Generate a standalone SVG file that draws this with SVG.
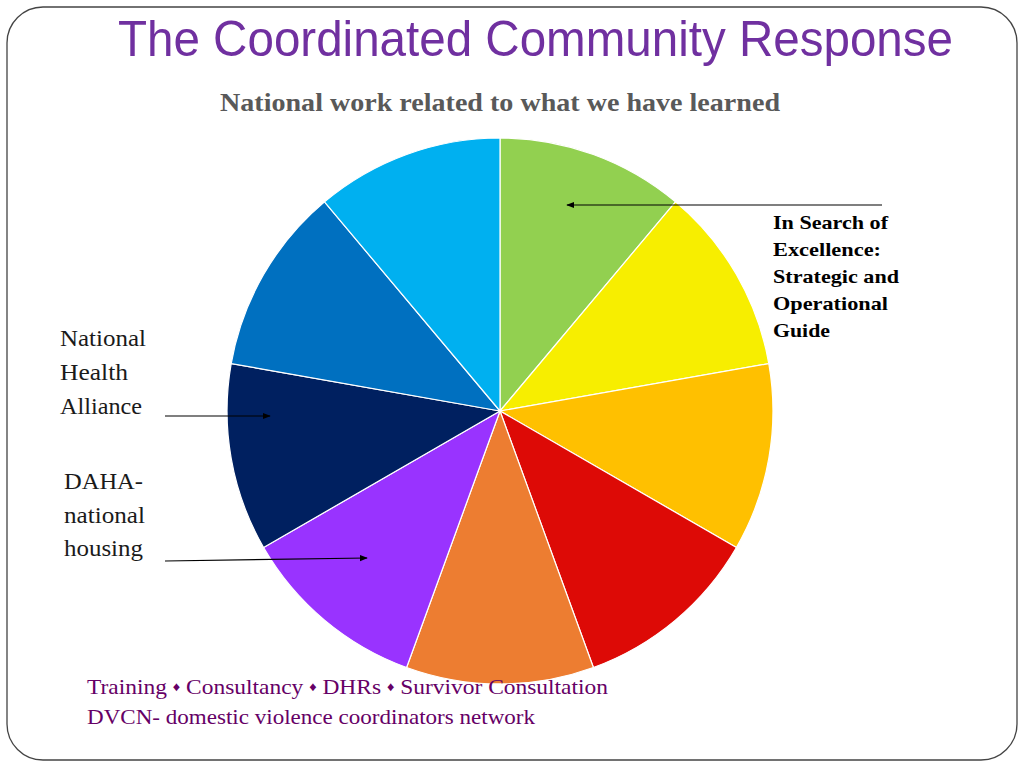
<svg xmlns="http://www.w3.org/2000/svg" width="1024" height="768" viewBox="0 0 1024 768">
<style>
.slice{stroke:#ffffff;stroke-width:1.2}
.serif{font-family:"Liberation Serif","DejaVu Serif",serif}
.lbl{font-family:"Liberation Serif","DejaVu Serif",serif;font-size:23px;fill:#1a1a1a}
.rl{font-family:"Liberation Serif","DejaVu Serif",serif;font-size:19px;font-weight:bold;fill:#000}
.ft{font-family:"Liberation Serif","DejaVu Serif",serif;font-size:21px;fill:#660066}
.conn{stroke:#000;stroke-width:1.2;fill:none}
</style>
<defs>
<marker id="ah" viewBox="0 0 10 10" refX="9" refY="5" markerWidth="8" markerHeight="8" orient="auto" markerUnits="userSpaceOnUse"><path d="M0,1 L10,5 L0,9 z" fill="#000"/></marker>
</defs>
<rect x="7" y="7" width="1010" height="753" rx="36" ry="36" fill="#fff" stroke="#444" stroke-width="1.3"/>
<text x="118" y="56" font-family="Liberation Sans, Arial, sans-serif" font-size="50" fill="#7030A0" textLength="835" lengthAdjust="spacingAndGlyphs">The Coordinated Community Response</text>
<text x="220" y="111" class="serif" font-size="26" font-weight="bold" fill="#595959" textLength="560" lengthAdjust="spacingAndGlyphs">National work related to what we have learned</text>
<g id="pie">
<path class="slice" fill="#92D050" d="M500,411 L500,138 A273,273 0 0 1 675.5,201.9 Z"/>
<path class="slice" fill="#F7EE00" d="M500,411 L675.5,201.9 A273,273 0 0 1 768.8,363.6 Z"/>
<path class="slice" fill="#FFC000" d="M500,411 L768.8,363.6 A273,273 0 0 1 736.4,547.5 Z"/>
<path class="slice" fill="#DD0A06" d="M500,411 L736.4,547.5 A273,273 0 0 1 593.4,667.5 Z"/>
<path class="slice" fill="#ED7D31" d="M500,411 L593.4,667.5 A273,273 0 0 1 406.6,667.5 Z"/>
<path class="slice" fill="#9933FF" d="M500,411 L406.6,667.5 A273,273 0 0 1 263.6,547.5 Z"/>
<path class="slice" fill="#002060" d="M500,411 L263.6,547.5 A273,273 0 0 1 231.2,363.6 Z"/>
<path class="slice" fill="#0070C0" d="M500,411 L231.2,363.6 A273,273 0 0 1 324.5,201.9 Z"/>
<path class="slice" fill="#00B0F0" d="M500,411 L324.5,201.9 A273,273 0 0 1 500,138 Z"/>
</g>
<g id="connectors">
<line class="conn" x1="882" y1="205" x2="567" y2="205" marker-end="url(#ah)"/>
<line class="conn" x1="165" y1="416" x2="270" y2="416" marker-end="url(#ah)"/>
<line class="conn" x1="165" y1="561" x2="367" y2="558" marker-end="url(#ah)"/>
</g>
<g id="label-search">
<text class="rl" x="773" y="229" textLength="115" lengthAdjust="spacingAndGlyphs">In Search of</text>
<text class="rl" x="773" y="256" textLength="108" lengthAdjust="spacingAndGlyphs">Excellence:</text>
<text class="rl" x="773" y="283" textLength="126" lengthAdjust="spacingAndGlyphs">Strategic and</text>
<text class="rl" x="773" y="310" textLength="115" lengthAdjust="spacingAndGlyphs">Operational</text>
<text class="rl" x="773" y="337" textLength="57" lengthAdjust="spacingAndGlyphs">Guide</text>
</g>
<g id="label-nha">
<text class="lbl" x="60" y="346" textLength="86" lengthAdjust="spacingAndGlyphs">National</text>
<text class="lbl" x="60" y="380" textLength="68" lengthAdjust="spacingAndGlyphs">Health</text>
<text class="lbl" x="60" y="414" textLength="82" lengthAdjust="spacingAndGlyphs">Alliance</text>
</g>
<g id="label-daha">
<text class="lbl" x="64" y="489" textLength="79" lengthAdjust="spacingAndGlyphs">DAHA-</text>
<text class="lbl" x="64" y="523" textLength="81" lengthAdjust="spacingAndGlyphs">national</text>
<text class="lbl" x="64" y="556" textLength="79" lengthAdjust="spacingAndGlyphs">housing</text>
</g>
<g id="footer">
<text class="ft" x="87" y="694" textLength="521" lengthAdjust="spacingAndGlyphs">Training <tspan font-size="13" dy="-3">♦</tspan><tspan dy="3"> Consultancy </tspan><tspan font-size="13" dy="-3">♦</tspan><tspan dy="3"> DHRs </tspan><tspan font-size="13" dy="-3">♦</tspan><tspan dy="3"> Survivor Consultation</tspan></text>
<text class="ft" x="87" y="724" textLength="448" lengthAdjust="spacingAndGlyphs">DVCN- domestic violence coordinators network</text>
</g>
</svg>
